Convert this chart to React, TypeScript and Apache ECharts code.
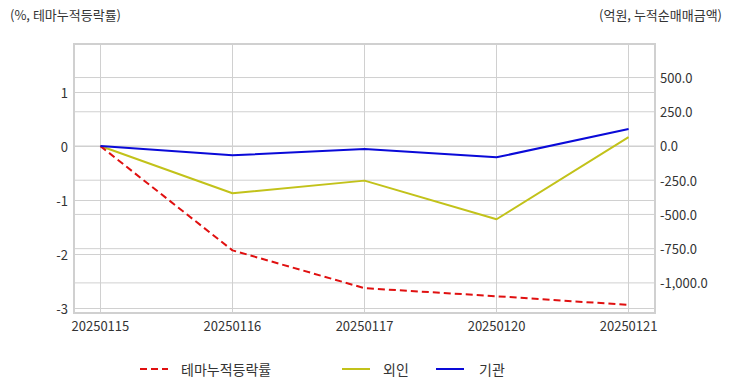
import React, { useEffect, useRef } from "react";
import * as echarts from "echarts";

const categories = ["20250115", "20250116", "20250117", "20250120", "20250121"];
const themeReturn = [0, -1.93, -2.63, -2.78, -2.94];
const foreignNet = [0, -345, -253, -535, 65];
const instNet = [0, -68, -22, -83, 124];
const rightTicks = [-1000, -750, -500, -250, 0, 250, 500];

const X_MIN = -0.2;
const X_MAX = 4.2;
const FONT = "'Noto Sans CJK KR', 'Noto Sans', sans-serif";
const GRID_COLOR = "#d0d0d0";
const FS = 13;

export default function App() {
  const ref = useRef<HTMLDivElement>(null);
  useEffect(() => {
    if (!ref.current) return;
    const chart = echarts.init(ref.current, undefined, { renderer: "svg" });
    const pairs = (arr: number[]) => arr.map((v, i) => [i, v]);
    const legendBase = {
      top: 362,
      padding: 0,
      itemWidth: 28,
      itemHeight: 14,
      itemStyle: { opacity: 0 },
      textStyle: { fontSize: 14, color: "#333", fontFamily: FONT, padding: [0, 0, 0, 8] },
    };
    const gridSeries = rightTicks.map((t) => ({
      name: "grid" + t,
      type: "line",
      yAxisIndex: 1,
      silent: true,
      symbol: "none",
      z: 1,
      data: [
        [X_MIN, t],
        [X_MAX, t],
      ],
      lineStyle: { color: GRID_COLOR, width: 1 },
      itemStyle: { color: GRID_COLOR },
      emphasis: { disabled: true },
      tooltip: { show: false },
    }));
    chart.setOption({
      animation: false,
      textStyle: { fontFamily: FONT },
      grid: {
        left: 74,
        right: 77,
        top: 44,
        bottom: 79,
        show: true,
        borderColor: GRID_COLOR,
        borderWidth: 2,
        backgroundColor: "transparent",
      },
      graphic: [
        {
          type: "text",
          left: 10,
          top: 8,
          style: { text: "(%, 테마누적등락률)", fontSize: FS, fill: "#333", fontFamily: FONT },
        },
        {
          type: "text",
          right: 10,
          top: 8,
          style: { text: "(억원, 누적순매매금액)", fontSize: FS, fill: "#333", fontFamily: FONT },
        },
      ],
      legend: [
        { ...legendBase, left: 139, data: ["테마누적등락률"] },
        { ...legendBase, left: 341, data: ["외인"] },
        { ...legendBase, left: 435, data: ["기관"], textStyle: { ...legendBase.textStyle, padding: [0, 0, 0, 10] } },
      ],
      xAxis: {
        type: "value",
        min: X_MIN,
        max: X_MAX,
        axisLine: { show: false },
        axisTick: { show: false },
        splitLine: { show: true, lineStyle: { color: GRID_COLOR, width: 1 } },
        axisLabel: {
          showMinLabel: false,
          showMaxLabel: false,
          margin: 6,
          fontSize: FS,
          color: "#333",
          formatter: (v: number) => {
            const i = Math.round(v);
            return Math.abs(v - i) < 1e-6 && categories[i] ? categories[i] : "";
          },
        },
      },
      yAxis: [
        {
          type: "value",
          min: -3.09,
          max: 1.89,
          axisLine: { show: false },
          axisTick: { show: false },
          splitLine: { show: true, lineStyle: { color: GRID_COLOR, width: 1 } },
          axisLabel: {
            showMinLabel: false,
            showMaxLabel: false,
            margin: 6,
            fontSize: FS,
            color: "#333",
          },
        },
        {
          type: "value",
          position: "right",
          min: -1220,
          max: 745,
          axisLine: { show: false },
          axisTick: { show: false },
          splitLine: { show: false },
          axisLabel: {
            customValues: rightTicks,
            margin: 5,
            fontSize: FS,
            color: "#333",
            formatter: (v: number) =>
              v.toLocaleString("en-US", { minimumFractionDigits: 1, maximumFractionDigits: 1 }),
          },
        },
      ],
      series: [
        ...gridSeries,
        {
          name: "테마누적등락률",
          type: "line",
          yAxisIndex: 0,
          data: pairs(themeReturn),
          symbol: "none",
          lineStyle: { color: "#e01010", width: 2, type: [7, 4] },
          itemStyle: { color: "#e01010" },
          z: 3,
        },
        {
          name: "외인",
          type: "line",
          yAxisIndex: 1,
          data: pairs(foreignNet),
          symbol: "none",
          lineStyle: { color: "#c2c21a", width: 2 },
          itemStyle: { color: "#c2c21a" },
          z: 2,
        },
        {
          name: "기관",
          type: "line",
          yAxisIndex: 1,
          data: pairs(instNet),
          symbol: "none",
          lineStyle: { color: "#0a0ad8", width: 2 },
          itemStyle: { color: "#0a0ad8" },
          z: 4,
        },
      ],
    });
    return () => chart.dispose();
  }, []);
  return <div ref={ref} style={{ width: 732, height: 392, position: "absolute", left: 0, top: 0 }} />;
}
